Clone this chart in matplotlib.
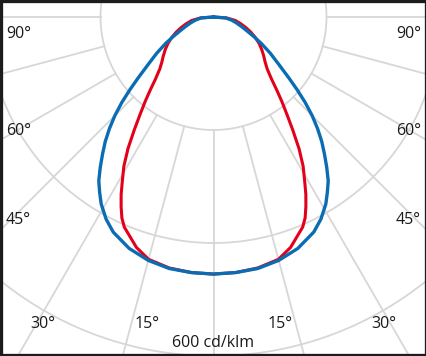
import numpy as np
import matplotlib
matplotlib.use("Agg")
import matplotlib.pyplot as plt
from matplotlib.patches import Rectangle

# luminous intensity, cd/klm, one half of the symmetric curve (angle from nadir, deg)
blueAngles = [0, 5, 10, 15, 20, 25, 28, 31, 33, 35, 37, 39, 41, 43, 45, 47, 49, 51,
              54, 57.5, 61, 64, 67.5, 71, 75.5, 80, 85.5, 90]
blueValues = [455, 454, 452, 446, 436, 420, 405, 386, 370, 354, 333, 312, 292, 270, 247,
              222, 196, 172, 143, 119, 97, 80, 64, 53, 42, 33, 22, 0]
redAngles = [0, 5, 10, 15, 18.5, 21.5, 23, 24.5, 26, 27.5, 29, 31, 33, 35, 37, 39, 41,
             43, 46, 49, 52, 56, 60, 64, 68, 72, 76, 81, 86, 90]
redValues = [455, 454, 451, 444, 430, 412, 404, 391, 373, 354, 333, 308, 278, 245, 216,
             192, 170, 151, 132, 121, 113, 103, 93, 82, 71, 60, 50, 39, 23, 0]

ringValues = [200, 400, 600]
spokeAngles = np.arange(-180, 181, 15)
leftLabels = ["90°", "60°", "45°"]
bottomLabels = ["30°", "15°", "15°", "30°"]
unitLabel = "600 cd/klm"

W, H = 427, 356
fig = plt.figure(figsize=(W/100, H/100), dpi=100)
plt.rcParams['font.family'] = ['Open Sans', 'DejaVu Sans']

# polar axes much bigger than the figure, pole near the top centre
R = 452
cx, cy = 213.5, H - 17
ax = fig.add_axes([(cx-R)/W, (cy-R)/H, 2*R/W, 2*R/H], projection='polar')
ax.set_theta_zero_location('S')
ax.set_rlim(0, 800)
ax.grid(False)
ax.set_xticks([])
ax.set_yticks([])
ax.spines['polar'].set_visible(False)

gridColor = "#d7d7d7"
circ = np.linspace(0, 2*np.pi, 720)
for rv in ringValues:
    ax.plot(circ, np.full_like(circ, rv), color=gridColor, lw=1.3, zorder=1)
for a in spokeAngles:
    ax.plot([np.radians(a)]*2, [ringValues[0], 800], color=gridColor, lw=1.3, zorder=1)

def mirror(angles, values):
    a = np.radians(np.array(angles, dtype=float))
    v = np.array(values, dtype=float)
    return np.concatenate([-a[::-1], a[1:]]), np.concatenate([v[::-1], v[1:]])

t, r = mirror(redAngles, redValues)
ax.plot(t, r, color="#e2001a", lw=2.2, zorder=3, solid_joinstyle="round")
t, r = mirror(blueAngles, blueValues)
ax.plot(t, r, color="#0a6db3", lw=2.4, zorder=4, solid_joinstyle="round")

fs = 11.5
for lab, y in zip(leftLabels, [34, 131, 220]):
    fig.text(6/W, 1-y/H, lab, ha="left", va="center", fontsize=fs, color="#1a1a1a")
    fig.text(421/W, 1-y/H, lab, ha="right", va="center", fontsize=fs, color="#1a1a1a")
for lab, x in zip(bottomLabels, [43, 147, 280, 384]):
    fig.text(x/W, 1-324/H, lab, ha="center", va="center", fontsize=fs, color="#1a1a1a")
fig.text(213/W, 1-343/H, unitLabel, ha="center", va="center", fontsize=fs, color="#1a1a1a")

fig.patches.append(Rectangle((0, 0), 1, 1, transform=fig.transFigure, fill=False,
                             edgecolor="#1c1c1c", lw=3.8, zorder=10))

fig.savefig("out.png", dpi=100)
